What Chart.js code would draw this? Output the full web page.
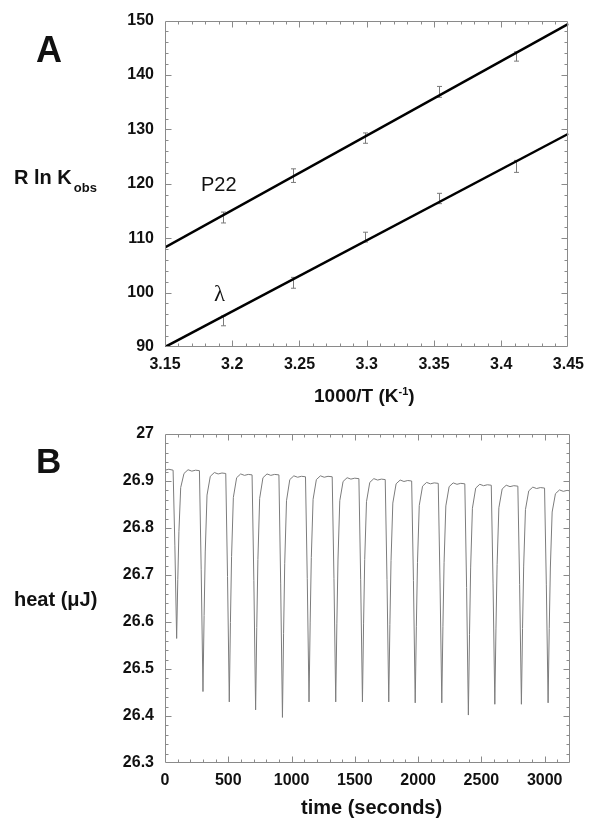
<!DOCTYPE html>
<html>
<head>
<meta charset="utf-8">
<script src="https://cdn.jsdelivr.net/npm/chart.js@4.4.1/dist/chart.umd.min.js"></script>
<style>
  body { margin: 0; background: #fff; }
  #wrap { position: relative; width: 592px; height: 818px; overflow: hidden;
          font-family: "Liberation Sans", Arial, sans-serif; color: #111; }
  canvas { position: absolute; left: 0; }
  .lbl { position: absolute; white-space: nowrap; line-height: 1; }
  .b { font-weight: bold; }
</style>
</head>
<body>
<div id="wrap">
  <canvas id="chartA" width="592" height="420" style="top:0"></canvas>
  <canvas id="chartB" width="592" height="408" style="top:410px"></canvas>

  <div class="lbl b" style="left:36px;top:32px;font-size:36px">A</div>
  <div class="lbl b" style="left:14px;top:167px;font-size:20px">R ln K<span style="font-size:13px;position:relative;top:8px;margin-left:2px">obs</span></div>
  <div class="lbl" style="left:201px;top:174px;font-size:20px">P22</div>
  <div class="lbl" style="left:214px;top:282px;font-size:23px;font-family:'Liberation Serif',serif">λ</div>
  <div class="lbl b" style="left:314px;top:386px;font-size:19px">1000/T (K<span style="font-size:11px;position:relative;top:-7px">-1</span>)</div>

  <div class="lbl b" style="left:36px;top:443px;font-size:35px">B</div>
  <div class="lbl b" style="left:14px;top:589px;font-size:20px">heat (μJ)</div>
  <div class="lbl b" style="left:301px;top:797px;font-size:20px">time (seconds)</div>
</div>

<script>
// panel A: 1000/T positions and R ln Kobs values
const tempX = [3.193, 3.245, 3.299, 3.354, 3.411];
const p22Y = [113.8, 121.5, 128.4, 136.9, 143.4];
const p22Err = [1.0, 1.25, 0.95, 1.0, 0.85];
const lambdaY = [94.8, 101.8, 110.2, 117.3, 123.2];
const lambdaErr = [0.9, 1.0, 0.9, 0.95, 1.1];
// fitted lines, end points
const fitX = [3.15, 3.45];
const p22Fit = [108.3, 149.4];
const lambdaFit = [90.0, 129.2];

// panel B: heat trace (one row per injection)
const heatTime = [
  0, 30, 64,
  78, 92, 101, 110, 124, 150, 182, 212, 242, 272,
  286, 300, 309, 318, 332, 358, 390, 420, 450, 480,
  494, 508, 517, 526, 540, 566, 598, 628, 658, 688,
  702, 716, 725, 734, 748, 774, 806, 836, 866, 900,
  914, 928, 937, 946, 960, 986, 1018, 1048, 1078, 1110,
  1124, 1138, 1147, 1156, 1170, 1196, 1228, 1258, 1288, 1321,
  1335, 1349, 1358, 1367, 1381, 1407, 1439, 1469, 1499, 1532,
  1546, 1560, 1569, 1578, 1592, 1618, 1650, 1680, 1710, 1740,
  1754, 1768, 1777, 1786, 1800, 1826, 1858, 1888, 1918, 1949,
  1963, 1977, 1986, 1995, 2009, 2035, 2067, 2097, 2127, 2159,
  2173, 2187, 2196, 2205, 2219, 2245, 2277, 2307, 2337, 2369,
  2383, 2397, 2406, 2415, 2429, 2455, 2487, 2517, 2547, 2578,
  2592, 2606, 2615, 2624, 2638, 2664, 2696, 2726, 2756, 2788,
  2802, 2816, 2825, 2834, 2848, 2874, 2906, 2936, 2966, 2999,
  3013, 3027, 3036, 3045, 3059, 3085, 3117, 3147, 3177, 3200
];
const heatValue = [
  26.923, 26.925, 26.923,
  26.762, 26.565, 26.690, 26.793, 26.886, 26.916, 26.924, 26.921, 26.923, 26.922,
  26.711, 26.452, 26.614, 26.749, 26.870, 26.910, 26.918, 26.915, 26.917, 26.916,
  26.697, 26.430, 26.599, 26.739, 26.865, 26.907, 26.915, 26.912, 26.914, 26.913,
  26.688, 26.413, 26.588, 26.733, 26.863, 26.907, 26.915, 26.912, 26.914, 26.913,
  26.681, 26.397, 26.576, 26.725, 26.858, 26.903, 26.911, 26.908, 26.910, 26.909,
  26.693, 26.430, 26.598, 26.737, 26.861, 26.903, 26.911, 26.908, 26.910, 26.909,
  26.693, 26.430, 26.596, 26.734, 26.858, 26.899, 26.907, 26.904, 26.906, 26.905,
  26.691, 26.430, 26.596, 26.733, 26.856, 26.897, 26.905, 26.902, 26.904, 26.903,
  26.690, 26.430, 26.595, 26.731, 26.853, 26.894, 26.902, 26.899, 26.901, 26.900,
  26.688, 26.428, 26.591, 26.727, 26.848, 26.889, 26.897, 26.894, 26.896, 26.895,
  26.685, 26.428, 26.591, 26.726, 26.847, 26.888, 26.896, 26.893, 26.895, 26.894,
  26.673, 26.402, 26.573, 26.715, 26.842, 26.885, 26.893, 26.890, 26.892, 26.891,
  26.681, 26.425, 26.587, 26.722, 26.843, 26.883, 26.891, 26.888, 26.890, 26.889,
  26.680, 26.425, 26.586, 26.719, 26.839, 26.879, 26.887, 26.884, 26.886, 26.885,
  26.679, 26.428, 26.586, 26.717, 26.834, 26.873, 26.881, 26.878, 26.880, 26.879
];
const timeTicks = [0, 500, 1000, 1500, 2000, 2500, 3000];

const tickFont = { family: 'Liberation Sans', size: 16, weight: 'bold' };

// box around the plot with inward ticks on all four sides
const frameTicks = {
  id: 'frameTicks',
  afterDatasetsDraw(chart, args, o) {
    const { ctx, chartArea: a } = chart;
    const x = chart.scales.x, y = chart.scales.y;
    const L = Math.round(a.left) + 0.5, R = Math.round(a.right) - 0.5;
    const T = Math.round(a.top) + 0.5, B = Math.round(a.bottom) - 0.5;
    ctx.save();
    ctx.strokeStyle = '#8a8a8a';
    ctx.lineWidth = 1;
    ctx.beginPath();
    ctx.rect(L, T, R - L, B - T);
    const nx = Math.round((x.max - x.min) / o.xMinor);
    for (let i = 1; i < nx; i++) {
      const px = Math.round(x.getPixelForValue(x.min + i * o.xMinor)) + 0.5;
      const len = i % 5 === 0 ? 6 : 3;
      ctx.moveTo(px, B); ctx.lineTo(px, B - len);
      ctx.moveTo(px, T); ctx.lineTo(px, T + len);
    }
    const ny = Math.round((y.max - y.min) / o.yMinor);
    for (let i = 1; i < ny; i++) {
      const py = Math.round(y.getPixelForValue(y.min + i * o.yMinor)) + 0.5;
      const len = i % 5 === 0 ? 6 : 3;
      ctx.moveTo(L, py); ctx.lineTo(L + len, py);
      ctx.moveTo(R, py); ctx.lineTo(R - len, py);
    }
    ctx.stroke();
    ctx.restore();
  }
};

// vertical error bars with small caps, drawn under the fit lines
const errorBars = {
  id: 'errorBars',
  beforeDatasetsDraw(chart) {
    const { ctx } = chart;
    const x = chart.scales.x, y = chart.scales.y;
    ctx.save();
    ctx.strokeStyle = '#7a7a7a';
    ctx.lineWidth = 1;
    ctx.beginPath();
    chart.data.datasets.forEach(ds => {
      if (!ds.errors) return;
      ds.data.forEach((p, i) => {
        const px = Math.round(x.getPixelForValue(p.x)) + 0.5;
        const top = y.getPixelForValue(p.y + ds.errors[i]);
        const bot = y.getPixelForValue(p.y - ds.errors[i]);
        ctx.moveTo(px, top); ctx.lineTo(px, bot);
        ctx.moveTo(px - 2.5, top); ctx.lineTo(px + 2.5, top);
        ctx.moveTo(px - 2.5, bot); ctx.lineTo(px + 2.5, bot);
      });
    });
    ctx.stroke();
    ctx.restore();
  }
};

function axis(min, max, step, pad, fmt, fit) {
  return {
    type: 'linear', min: min, max: max,
    grid: { display: false, drawTicks: false },
    border: { display: false },
    ticks: { stepSize: step, padding: pad, color: '#111', font: tickFont,
             maxRotation: 0, autoSkip: false, includeBounds: false, callback: fmt },
    afterFit: fit
  };
}

const pts = (xs, ys) => xs.map((v, i) => ({ x: v, y: ys[i] }));

new Chart(document.getElementById('chartA'), {
  type: 'scatter',
  data: {
    datasets: [
      { data: pts(tempX, p22Y), errors: p22Err, pointRadius: 0 },
      { data: pts(tempX, lambdaY), errors: lambdaErr, pointRadius: 0 },
      { data: pts(fitX, p22Fit), showLine: true, borderColor: '#000', borderWidth: 2.5, pointRadius: 0 },
      { data: pts(fitX, lambdaFit), showLine: true, borderColor: '#000', borderWidth: 2.5, pointRadius: 0 }
    ]
  },
  options: {
    responsive: false,
    animation: false,
    devicePixelRatio: 1,
    layout: { padding: { left: 0, top: 20, right: 23, bottom: 0 } },
    scales: {
      x: axis(3.15, 3.45, 0.05, 8, v => String(+v.toFixed(2)), s => { s.height = 73; }),
      y: axis(90, 150, 10, 11, v => String(Math.round(v)), s => { s.width = 165; })
    },
    plugins: {
      legend: { display: false },
      tooltip: { enabled: false },
      frameTicks: { xMinor: 0.01, yMinor: 2 }
    }
  },
  plugins: [errorBars, frameTicks]
});

const xB = axis(0, 3200, 500, 8, v => String(Math.round(v)), s => { s.height = 55; });
xB.afterBuildTicks = s => { s.ticks = timeTicks.map(v => ({ value: v })); };

new Chart(document.getElementById('chartB'), {
  type: 'scatter',
  data: {
    datasets: [
      { data: pts(heatTime, heatValue), showLine: true, borderColor: '#7c7c7c', borderWidth: 1,
        pointRadius: 0, tension: 0 }
    ]
  },
  options: {
    responsive: false,
    animation: false,
    devicePixelRatio: 1,
    layout: { padding: { left: 0, top: 24, right: 22, bottom: 0 } },
    scales: {
      x: xB,
      y: axis(26.3, 27, 0.1, 11, v => String(+v.toFixed(1)), s => { s.width = 165; })
    },
    plugins: {
      legend: { display: false },
      tooltip: { enabled: false },
      frameTicks: { xMinor: 100, yMinor: 0.02 }
    }
  },
  plugins: [frameTicks]
});
</script>
</body>
</html>
